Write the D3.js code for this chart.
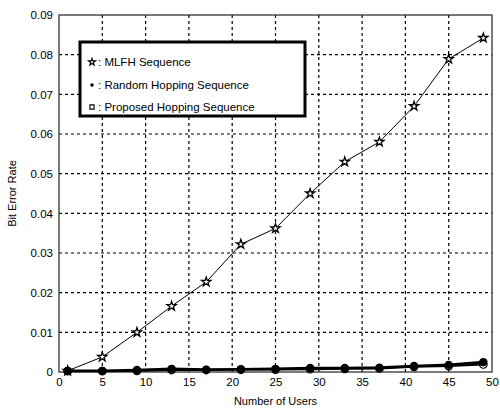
<!DOCTYPE html>
<html>
<head>
<meta charset="utf-8">
<script src="https://cdn.jsdelivr.net/npm/d3@7"></script>
<style>
  body { margin: 0; background: #fff; }
  svg { display: block; font-family: "Liberation Sans", Arial, sans-serif; }
</style>
</head>
<body>
<svg id="chart" width="500" height="411"></svg>
<script>
// Number of users at which each sequence was simulated
const users = [1, 5, 9, 13, 17, 21, 25, 29, 33, 37, 41, 45, 49];
// Bit error rate per sequence
const mlfh     = [0.0003, 0.0038, 0.0100, 0.0166, 0.0227, 0.0322, 0.0362, 0.0450, 0.0530, 0.0580, 0.0670, 0.0789, 0.0842];
const randomHop = [0.0003, 0.0003, 0.0005, 0.0008, 0.0006, 0.0007, 0.0008, 0.0010, 0.0010, 0.0011, 0.0015, 0.0018, 0.0025];
const proposed = [0.0002, 0.0002, 0.0003, 0.0005, 0.0005, 0.0006, 0.0006, 0.0007, 0.0008, 0.0009, 0.0013, 0.0015, 0.0019];
const xTicks = [0, 5, 10, 15, 20, 25, 30, 35, 40, 45, 50];
const yTicks = [0, 0.01, 0.02, 0.03, 0.04, 0.05, 0.06, 0.07, 0.08, 0.09];
const legendLabels = ["MLFH Sequence", "Random Hopping Sequence", "Proposed Hopping Sequence"];

const svg = d3.select("#chart");
const plotL = 59, plotR = 492, plotT = 15, plotB = 372;

const x = d3.scaleLinear().domain([0, 50]).range([plotL, plotR]);
const y = d3.scaleLinear().domain([0, 0.09]).range([plotB, plotT]);

// dotted grid
const grid = svg.append("g");
grid.selectAll("line.v").data(xTicks.slice(1, -1)).join("line")
  .attr("x1", d => x(d)).attr("x2", d => x(d))
  .attr("y1", plotT).attr("y2", plotB)
  .attr("stroke", "#000").attr("stroke-width", 1.2).attr("stroke-dasharray", "3,3");
grid.selectAll("line.h").data(yTicks.slice(1, -1)).join("line")
  .attr("x1", plotL).attr("x2", plotR)
  .attr("y1", d => y(d)).attr("y2", d => y(d))
  .attr("stroke", "#000").attr("stroke-width", 1.2).attr("stroke-dasharray", "3,3");

// axes
const xAxis = d3.axisBottom(x).tickValues(xTicks).tickSize(0).tickPadding(6).tickFormat(d3.format("d"));
const yAxis = d3.axisLeft(y).tickValues(yTicks).tickSize(0).tickPadding(6)
  .tickFormat(d => d === 0 ? "0" : d3.format(".2f")(d));

const gx = svg.append("g").attr("transform", `translate(0,${plotB})`).call(xAxis);
const gy = svg.append("g").attr("transform", `translate(${plotL},0)`).call(yAxis);
[gx, gy].forEach(g => {
  g.select(".domain").remove();
  g.selectAll("text").attr("font-size", 11.5).attr("fill", "#000");
});

// frame
svg.append("rect").attr("x", plotL).attr("y", plotT)
  .attr("width", plotR - plotL).attr("height", plotB - plotT)
  .attr("fill", "none").attr("stroke", "#333").attr("stroke-width", 1.3);

const line = d3.line().x((d, i) => x(users[i])).y(d => y(d));

// near-zero series drawn as heavy lines
svg.append("path").datum(randomHop).attr("d", line)
  .attr("fill", "none").attr("stroke", "#000").attr("stroke-width", 2.6);
svg.append("path").datum(proposed).attr("d", line)
  .attr("fill", "none").attr("stroke", "#000").attr("stroke-width", 2);
svg.append("path").datum(mlfh).attr("d", line)
  .attr("fill", "none").attr("stroke", "#000").attr("stroke-width", 1);

const star = d3.symbol().type(d3.symbolStar).size(26);
const dot = d3.symbol().type(d3.symbolCircle).size(55);
const ring = d3.symbol().type(d3.symbolCircle).size(45);

svg.append("g").selectAll("path").data(mlfh).join("path")
  .attr("transform", (d, i) => `translate(${x(users[i])},${y(d)})`)
  .attr("d", star).attr("fill", "#fff").attr("stroke", "#000").attr("stroke-width", 1.3);
svg.append("g").selectAll("path").data(randomHop).join("path")
  .attr("transform", (d, i) => `translate(${x(users[i])},${y(d)})`)
  .attr("d", dot).attr("fill", "#000");
svg.append("g").selectAll("path").data(proposed).join("path")
  .attr("transform", (d, i) => `translate(${x(users[i])},${y(d)})`)
  .attr("d", ring).attr("fill", "none").attr("stroke", "#000").attr("stroke-width", 1.2);

// legend
const lg = svg.append("g");
lg.append("rect").attr("x", 80).attr("y", 42).attr("width", 225).attr("height", 74)
  .attr("fill", "#fff").attr("stroke", "#000").attr("stroke-width", 3);
const rowY = [62, 85, 107];
const legendSymbols = [
  d3.symbol().type(d3.symbolStar).size(16),
  d3.symbol().type(d3.symbolCircle).size(10),
  d3.symbol().type(d3.symbolSquare).size(18)
];
legendLabels.forEach((lab, i) => {
  const s = lg.append("path").attr("d", legendSymbols[i])
    .attr("transform", `translate(92,${rowY[i]})`);
  if (i === 1) s.attr("fill", "#000");
  else s.attr("fill", "none").attr("stroke", "#000").attr("stroke-width", 1.1);
  lg.append("text").attr("x", 98).attr("y", rowY[i]).attr("dy", "0.35em")
    .attr("font-size", 11.5).text(": " + lab);
});

// axis titles
svg.append("text").attr("x", (plotL + plotR) / 2).attr("y", 405)
  .attr("text-anchor", "middle").attr("font-size", 11).text("Number of Users");
svg.append("text").attr("transform", `translate(16,${(plotT + plotB) / 2}) rotate(-90)`)
  .attr("text-anchor", "middle").attr("font-size", 11).text("Bit Error Rate");
</script>
</body>
</html>
